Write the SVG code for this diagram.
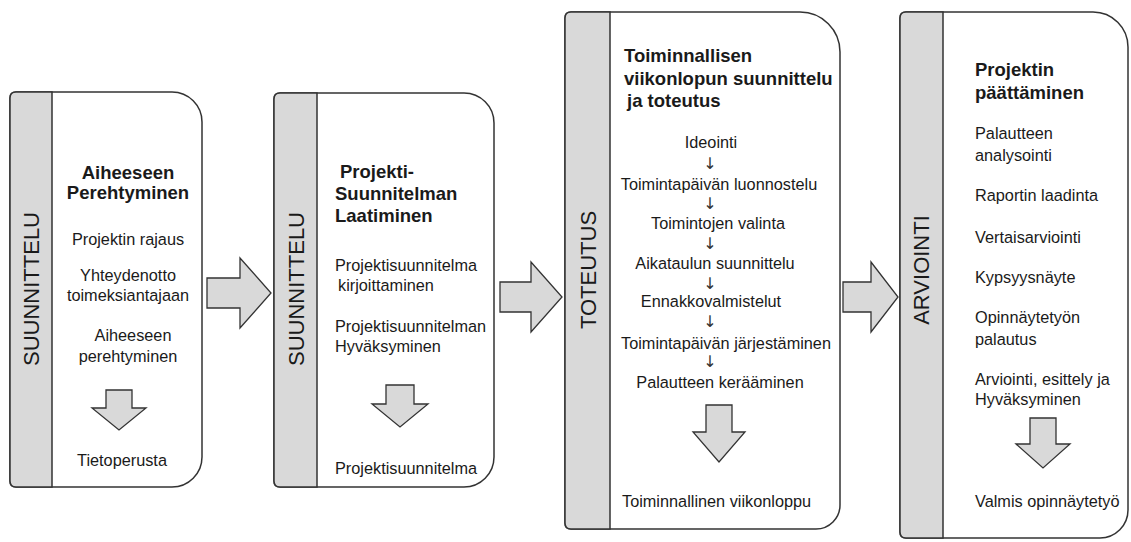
<svg xmlns="http://www.w3.org/2000/svg" width="1131" height="542" viewBox="0 0 1131 542">
<defs>
<style>
.box{fill:#fff;stroke:#333;stroke-width:1.5}
.band{fill:#d9d9d9;stroke:#333;stroke-width:1.5}
.arr{fill:#d9d9d9;stroke:#333;stroke-width:1.3;stroke-linejoin:miter}
text{font-family:"Liberation Sans",Arial,sans-serif;fill:#1a1a1a}
.t{font-size:16.3px}
.b{font-size:18.5px;font-weight:bold}
.v{font-size:22px}
.c{text-anchor:middle}
.s{font-size:16px;fill:#333;font-family:"DejaVu Sans",sans-serif}
</style>
</defs>
<rect width="1131" height="542" fill="#fff"/>

<g id="node-suunnittelu1">
<path class="box" d="M16 92 H172 A30 30 0 0 1 202 122 V457 A30 30 0 0 1 172 487 H16 Q10 487 10 481 V98 Q10 92 16 92 Z"/>
<path class="band" d="M16 92 H52 V487 H16 Q10 487 10 481 V98 Q10 92 16 92 Z"/>
<text class="v c" transform="translate(39 289) rotate(-90)">SUUNNITTELU</text>
<text class="b c" x="128" y="179">Aiheeseen</text>
<text class="b c" x="128" y="199">Perehtyminen</text>
<text class="t c" x="128" y="245">Projektin rajaus</text>
<text class="t c" x="128" y="281">Yhteydenotto</text>
<text class="t c" x="128" y="301">toimeksiantajaan</text>
<text class="t c" x="133" y="341">Aiheeseen</text>
<text class="t c" x="128" y="362">perehtyminen</text>
<path class="arr" d="M106 390 H132 V408 H146 L119 430 L92 408 H106 Z"/>
<text class="t c" x="122" y="466">Tietoperusta</text>
</g>

<g id="node-suunnittelu2">
<path class="box" d="M280 93 H464 A30 30 0 0 1 494 123 V457 A30 30 0 0 1 464 487 H280 Q274 487 274 481 V99 Q274 93 280 93 Z"/>
<path class="band" d="M280 93 H317 V487 H280 Q274 487 274 481 V99 Q274 93 280 93 Z"/>
<text class="v c" transform="translate(304 289) rotate(-90)">SUUNNITTELU</text>
<text class="b" x="340" y="178">Projekti-</text>
<text class="b" x="335" y="200">Suunnitelman</text>
<text class="b" x="335" y="222">Laatiminen</text>
<text class="t" x="335" y="271">Projektisuunnitelma</text>
<text class="t" x="338" y="291">kirjoittaminen</text>
<text class="t" x="335" y="332">Projektisuunnitelman</text>
<text class="t" x="335" y="352">Hyväksyminen</text>
<path class="arr" d="M386 385 H414 V404 H428 L400 427 L372 404 H386 Z"/>
<text class="t" x="335" y="474">Projektisuunnitelma</text>
</g>

<g id="node-toteutus">
<path class="box" d="M571 12 H800 A40 40 0 0 1 840 52 V505 A24 24 0 0 1 816 529 H571 Q565 529 565 523 V18 Q565 12 571 12 Z"/>
<path class="band" d="M571 12 H610 V529 H571 Q565 529 565 523 V18 Q565 12 571 12 Z"/>
<text class="v c" transform="translate(596 270) rotate(-90)">TOTEUTUS</text>
<text class="b" x="624" y="62">Toiminnallisen</text>
<text class="b" x="624" y="85">viikonlopun suunnittelu</text>
<text class="b" x="627" y="107">ja toteutus</text>
<text class="t c" x="711" y="148">Ideointi</text>
<text class="s c" x="710" y="169">↓</text>
<text class="t c" x="719" y="190">Toimintapäivän luonnostelu</text>
<text class="s c" x="710" y="209">↓</text>
<text class="t c" x="718" y="229">Toimintojen valinta</text>
<text class="s c" x="710" y="249">↓</text>
<text class="t c" x="715" y="269">Aikataulun suunnittelu</text>
<text class="s c" x="710" y="289">↓</text>
<text class="t c" x="711" y="307">Ennakkovalmistelut</text>
<text class="s c" x="710" y="327">↓</text>
<text class="t c" x="726" y="349">Toimintapäivän järjestäminen</text>
<text class="s c" x="710" y="367">↓</text>
<text class="t c" x="720" y="388">Palautteen kerääminen</text>
<path class="arr" d="M706 405 H732 V432 H745 L719 462 L693 432 H706 Z"/>
<text class="t" x="622" y="507">Toiminnallinen viikonloppu</text>
</g>

<g id="node-arviointi">
<path class="box" d="M906 12 H1093 A35 35 0 0 1 1128 47 V510 A28 28 0 0 1 1100 538 H906 Q900 538 900 532 V18 Q900 12 906 12 Z"/>
<path class="band" d="M906 12 H943 V538 H906 Q900 538 900 532 V18 Q900 12 906 12 Z"/>
<text class="v c" transform="translate(929 270) rotate(-90)">ARVIOINTI</text>
<text class="b" x="975" y="76">Projektin</text>
<text class="b" x="975" y="99">päättäminen</text>
<text class="t" x="975" y="139">Palautteen</text>
<text class="t" x="975" y="161">analysointi</text>
<text class="t" x="975" y="201">Raportin laadinta</text>
<text class="t" x="975" y="243">Vertaisarviointi</text>
<text class="t" x="975" y="283">Kypsyysnäyte</text>
<text class="t" x="975" y="323">Opinnäytetyön</text>
<text class="t" x="975" y="345">palautus</text>
<text class="t" x="975" y="385">Arviointi, esittely ja</text>
<text class="t" x="975" y="405">Hyväksyminen</text>
<path class="arr" d="M1030 418 H1056 V444 H1070 L1043 468 L1016 444 H1030 Z"/>
<text class="t" x="975" y="507">Valmis opinnäytetyö</text>
</g>

<g id="connectors">
<path class="arr" d="M207 278 H240 V258 L271 293 L240 328 V308 H207 Z"/>
<path class="arr" d="M500 282 H531 V262 L562 297 L531 332 V312 H500 Z"/>
<path class="arr" d="M843 282 H871 V262 L898 297 L871 332 V312 H843 Z"/>
</g>
</svg>
